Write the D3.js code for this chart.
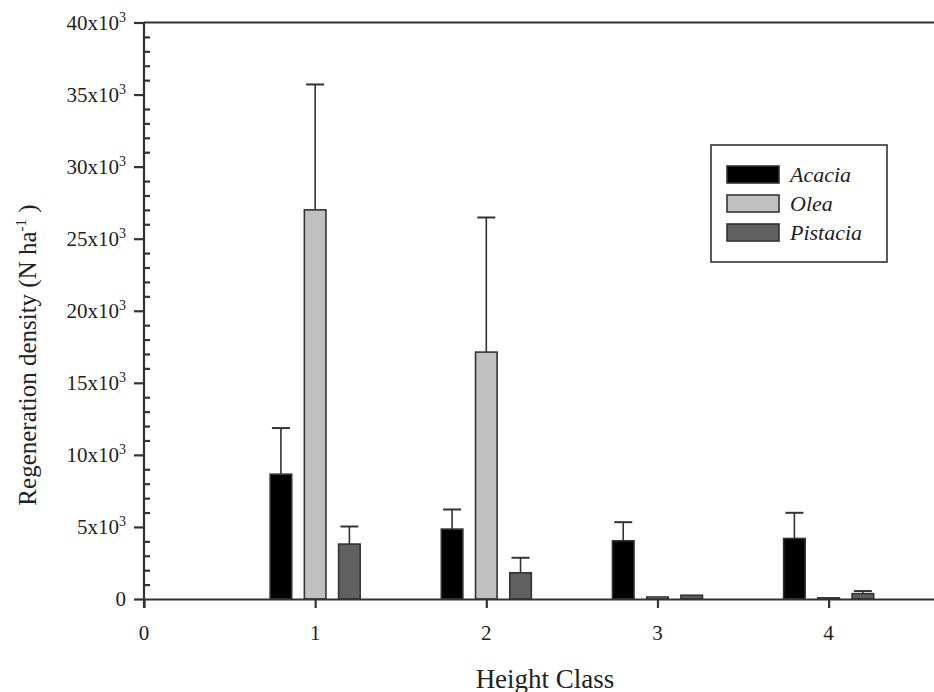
<!DOCTYPE html>
<html>
<head>
<meta charset="utf-8">
<script src="https://cdn.jsdelivr.net/npm/d3@7"></script>
<style>
  body { margin: 0; background: #fff; }
  text { font-family: "Liberation Serif", "DejaVu Serif", serif; fill: #222; }
</style>
</head>
<body>
<svg id="chart" width="934" height="692"></svg>
<script>
var classes = [1, 2, 3, 4];
var species = ['Acacia', 'Olea', 'Pistacia'];
var acacia = [8660, 4850, 4040, 4200];
var acaciaErr = [3200, 1360, 1290, 1780];
var olea = [27000, 17130, 140, 80];
var oleaErr = [8700, 9340, 0, 0];
var pistacia = [3810, 1820, 260, 370];
var pistaciaErr = [1220, 1040, 0, 180];
var xTicks = [0, 1, 2, 3, 4];
var yTicks = [0, 5000, 10000, 15000, 20000, 25000, 30000, 35000, 40000];
var yTickLabels = ['0', '5x10', '10x10', '15x10', '20x10', '25x10', '30x10', '35x10', '40x10'];

var fills = { Acacia: '#000000', Olea: '#c0c0c0', Pistacia: '#606060' };
var offsets = { Acacia: -0.2, Olea: 0, Pistacia: 0.2 };
var barW = 0.126;
var ink = '#333';

var svg = d3.select('#chart');
var plotLeft = 144, plotTop = 22.5, plotRight = 945, plotBottom = 599;

var x = d3.scaleLinear().domain([0, 4.68]).range([plotLeft, plotRight]);
var y = d3.scaleLinear().domain([0, 40000]).range([plotBottom, plotTop]);

// flatten the series into one list of bars
var bars = [];
classes.forEach(function(c, i) {
  bars.push({ sp: 'Acacia', c: c, v: acacia[i], e: acaciaErr[i] });
  bars.push({ sp: 'Olea', c: c, v: olea[i], e: oleaErr[i] });
  bars.push({ sp: 'Pistacia', c: c, v: pistacia[i], e: pistaciaErr[i] });
});

// error bars (upper only), drawn under the bars
var errs = svg.append('g').attr('class', 'errs')
  .selectAll('g').data(bars.filter(function(d) { return d.e > 0; }))
  .enter().append('g')
  .attr('stroke', ink).attr('stroke-width', 1.6);
errs.append('line')
  .attr('x1', function(d) { return x(d.c + offsets[d.sp]); })
  .attr('x2', function(d) { return x(d.c + offsets[d.sp]); })
  .attr('y1', function(d) { return y(d.v); })
  .attr('y2', function(d) { return y(d.v + d.e); });
errs.append('line')
  .attr('x1', function(d) { return x(d.c + offsets[d.sp]) - 9; })
  .attr('x2', function(d) { return x(d.c + offsets[d.sp]) + 9; })
  .attr('y1', function(d) { return y(d.v + d.e); })
  .attr('y2', function(d) { return y(d.v + d.e); })
  .attr('stroke-width', 2);

svg.append('g').attr('class', 'bars')
  .selectAll('rect').data(bars)
  .enter().append('rect')
  .attr('x', function(d) { return x(d.c + offsets[d.sp] - barW / 2); })
  .attr('width', function(d) { return x(barW) - x(0); })
  .attr('y', function(d) { return y(d.v); })
  .attr('height', function(d) { return y(0) - y(d.v); })
  .attr('fill', function(d) { return fills[d.sp]; })
  .attr('stroke', ink)
  .attr('stroke-width', 1.6);

// axes
var yMinor = d3.range(1000, 40000, 1000).filter(function(v) { return v % 5000 !== 0; });

var yAxis = svg.append('g').attr('transform', 'translate(' + plotLeft + ',0)')
  .call(d3.axisLeft(y).tickValues(yTicks).tickSize(10).tickFormat(''));
var yMinorAxis = svg.append('g').attr('transform', 'translate(' + plotLeft + ',0)')
  .call(d3.axisLeft(y).tickValues(yMinor).tickSize(-6).tickFormat('').tickSizeOuter(0));
yMinorAxis.select('.domain').remove();

var xAxis = svg.append('g').attr('transform', 'translate(0,' + plotBottom + ')')
  .call(d3.axisBottom(x).tickValues(xTicks).tickSize(9).tickSizeOuter(0).tickFormat(''));

[yAxis, yMinorAxis, xAxis].forEach(function(a) {
  a.selectAll('path, line').attr('stroke', ink).attr('stroke-width', 2.2);
});
yAxis.select('.domain').attr('d', 'M0,' + plotTop + 'V' + (plotBottom + 9));

// top frame line runs off the right edge
svg.append('line')
  .attr('x1', plotLeft).attr('x2', 960)
  .attr('y1', plotTop).attr('y2', plotTop)
  .attr('stroke', ink).attr('stroke-width', 2.2);

// y tick labels with superscript
var yLab = svg.append('g').selectAll('text').data(yTicks)
  .enter().append('text')
  .attr('x', 126)
  .attr('y', function(d) { return y(d) + 7; })
  .attr('text-anchor', 'end')
  .style('font-size', '21px');
yLab.append('tspan').text(function(d, i) { return yTickLabels[i]; });
yLab.filter(function(d) { return d > 0; })
  .append('tspan')
  .attr('dy', -8)
  .style('font-size', '14px')
  .text('3');

svg.append('g').selectAll('text').data(xTicks)
  .enter().append('text')
  .attr('x', function(d) { return x(d); })
  .attr('y', 640)
  .attr('text-anchor', 'middle')
  .style('font-size', '21px')
  .text(function(d) { return d; });

// titles
svg.append('text')
  .attr('x', 545).attr('y', 688)
  .attr('text-anchor', 'middle')
  .style('font-size', '27px')
  .text('Height Class');

var yt = svg.append('text')
  .attr('transform', 'translate(36,355) rotate(-90)')
  .attr('text-anchor', 'middle')
  .style('font-size', '25px');
yt.append('tspan').text('Regeneration density (N ha');
yt.append('tspan').attr('dy', -10).style('font-size', '15px').text('-1');
yt.append('tspan').attr('dy', 10).text(' )');

// legend
var lg = svg.append('g').attr('class', 'legend');
lg.append('rect')
  .attr('x', 711).attr('y', 145)
  .attr('width', 176).attr('height', 117)
  .attr('fill', '#fff').attr('stroke', ink).attr('stroke-width', 1.6);
var item = lg.selectAll('g.item').data(species)
  .enter().append('g').attr('class', 'item')
  .attr('transform', function(d, i) { return 'translate(727,' + (166 + i * 29) + ')'; });
item.append('rect')
  .attr('width', 52).attr('height', 17)
  .attr('fill', function(d) { return fills[d]; })
  .attr('stroke', ink).attr('stroke-width', 1.6);
item.append('text')
  .attr('x', 63).attr('y', 16)
  .style('font-size', '22px')
  .style('font-style', 'italic')
  .text(function(d) { return d; });
</script>
</body>
</html>
